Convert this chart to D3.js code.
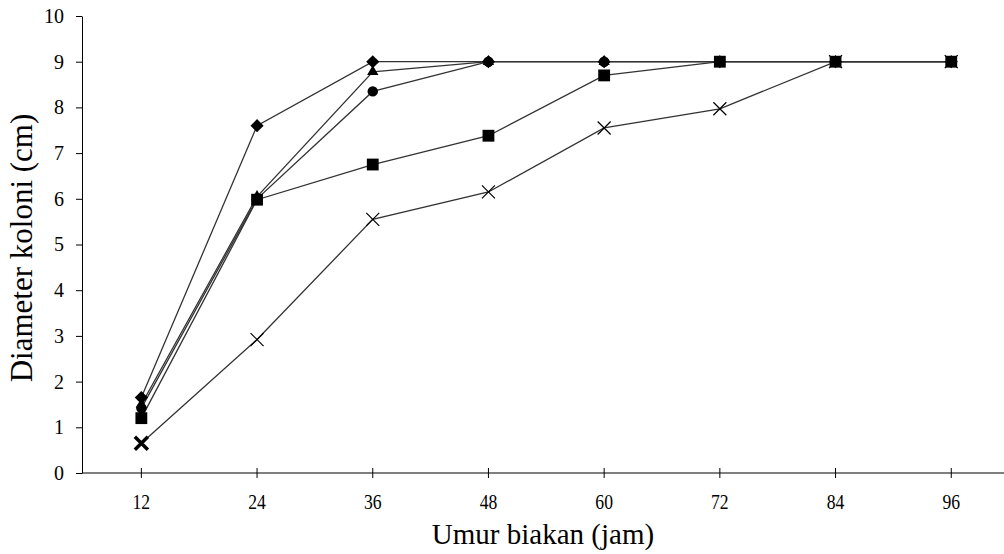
<!DOCTYPE html>
<meta charset="utf-8">
<html>
<head>
    <script src="https://d3js.org/d3.v7.min.js"></script>
    <style>
        body { margin: 0; background: #fff; }
        text { font-family: "Liberation Serif", "Times New Roman", serif; fill: #000; }
    </style>
</head>
<body>
<div id="chart"></div>
<script>
// data
var hours = ["12", "24", "36", "48", "60", "72", "84", "96"];
var yTicks = [0, 1, 2, 3, 4, 5, 6, 7, 8, 9, 10];
var seriesDiamond = [1.65, 7.6, 9, 9, 9, 9, 9, 9];
var seriesTriangle = [1.5, 6.05, 8.78, 9, 9, 9, 9, 9];
var seriesCircle = [1.42, 6.0, 8.35, 9, 9, 9, 9, 9];
var seriesCross = [0.65, 2.92, 5.55, 6.15, 7.55, 7.97, 9, 9];
var seriesSquare = [1.2, 5.98, 6.75, 7.38, 8.7, 9, 9, 9];

var series = [
    {name: "x", values: seriesCross, shape: "cross"},
    {name: "triangle", values: seriesTriangle, shape: "triangle"},
    {name: "circle", values: seriesCircle, shape: "circle"},
    {name: "diamond", values: seriesDiamond, shape: "diamond"},
    {name: "square", values: seriesSquare, shape: "square"}
];

var W = 1004, H = 554;
var plotLeft = 82, plotBottom = 473, plotTop = 16;
var step = 115.7;

var svg = d3.select("#chart").append("svg")
    .attr("width", W)
    .attr("height", H);

var x = d3.scalePoint().domain(hours)
    .range([plotLeft + step / 2 + 1.5, plotLeft + step / 2 + 1.5 + step * (hours.length - 1)]);
var y = d3.scaleLinear().domain([0, 10]).range([plotBottom, plotTop]);

// y axis
var yAxis = svg.append("g")
    .attr("transform", "translate(" + plotLeft + ",0)")
    .call(d3.axisLeft(y).tickValues(yTicks).tickSize(6).tickPadding(12).tickSizeOuter(0));
yAxis.select(".domain").attr("stroke", "#000");
yAxis.selectAll(".tick line").attr("stroke", "#000");
yAxis.selectAll("text")
    .style("font-size", "20px")
    .style("font-family", "'Liberation Serif', serif")
    .attr("fill", "#000");

// x axis
svg.append("line")
    .attr("x1", plotLeft).attr("x2", W)
    .attr("y1", plotBottom).attr("y2", plotBottom)
    .attr("stroke", "#000");
svg.selectAll(".xtick")
    .data(hours).enter()
    .append("line")
    .attr("x1", function(d){ return x(d); })
    .attr("x2", function(d){ return x(d); })
    .attr("y1", plotBottom - 5).attr("y2", plotBottom + 5)
    .attr("stroke", "#000");
svg.selectAll(".xlabel")
    .data(hours).enter()
    .append("text")
    .attr("transform", function(d){ return "translate(" + x(d) + "," + (plotBottom + 36) + ") scale(0.8,1)"; })
    .attr("text-anchor", "middle")
    .style("font-size", "22px")
    .text(function(d){ return d; });

// titles
svg.append("text")
    .attr("x", 543).attr("y", 544)
    .attr("text-anchor", "middle")
    .style("font-size", "29px")
    .text("Umur biakan (jam)");
svg.append("text")
    .attr("transform", "translate(32,248) rotate(-90)")
    .attr("text-anchor", "middle")
    .style("font-size", "31px")
    .text("Diameter koloni (cm)");

// lines
var line = d3.line()
    .x(function(d, i){ return x(hours[i]); })
    .y(function(d){ return y(d); });

series.forEach(function(s){
    svg.append("path")
        .datum(s.values)
        .attr("d", line)
        .attr("fill", "none")
        .attr("stroke", "#333")
        .attr("stroke-width", 1.3);
});

// markers
var symbols = {
    diamond: d3.symbol().type(d3.symbolDiamond2).size(110),
    triangle: d3.symbol().type(d3.symbolTriangle).size(55),
    circle: d3.symbol().type(d3.symbolCircle).size(85),
    square: d3.symbol().type(d3.symbolSquare).size(140)
};

series.forEach(function(s){
    var g = svg.append("g");
    if (s.shape === "cross") {
        g.selectAll("path")
            .data(s.values).enter()
            .append("path")
            .attr("transform", function(d, i){ return "translate(" + x(hours[i]) + "," + y(d) + ")"; })
            .attr("d", "M-6.5,-6.5L6.5,6.5M-6.5,6.5L6.5,-6.5")
            .attr("stroke", "#000")
            .attr("stroke-width", function(d, i){ return i === 0 ? 3.5 : 1.2; })
            .attr("fill", "none");
    } else {
        g.selectAll("path")
            .data(s.values).enter()
            .append("path")
            .attr("transform", function(d, i){ return "translate(" + x(hours[i]) + "," + y(d) + ")"; })
            .attr("d", symbols[s.shape]())
            .attr("fill", "#000");
    }
});
</script>
</body>
</html>
